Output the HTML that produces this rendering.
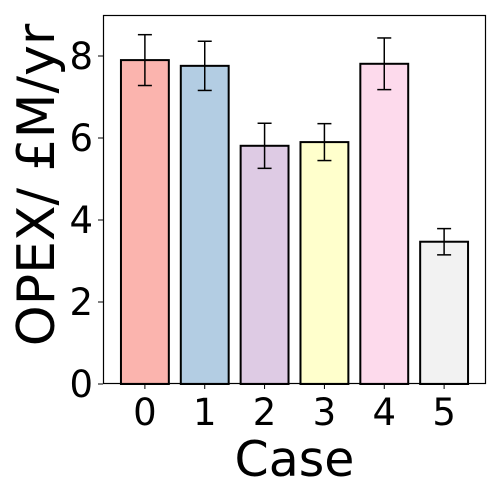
<!DOCTYPE html>
<html><head><meta charset="utf-8"><style>body{margin:0;background:#fff}svg{display:block}text{font-family:"DejaVu Sans","Liberation Sans",sans-serif}</style></head>
<body>
<svg id="chart" width="500" height="500" xmlns="http://www.w3.org/2000/svg"></svg>
<script>
const categories = ["0","1","2","3","4","5"];
const values = [7.90, 7.76, 5.81, 5.90, 7.81, 3.47];
const errors = [0.62, 0.60, 0.55, 0.45, 0.63, 0.32];
const colors = ["#fbb4ae","#b3cde3","#decbe4","#ffffcc","#fddaec","#f2f2f2"];
const yTicks = [0,2,4,6,8];
const NS="http://www.w3.org/2000/svg";
const svg=document.getElementById('chart');
const L=103,R=486,T=15,B=384;
const xMin=-0.7,xMax=5.7,yMin=0,yMax=9;
const xs=v=>L+(v-xMin)/(xMax-xMin)*(R-L);
const ys=v=>B-(v-yMin)/(yMax-yMin)*(B-T);
function mk(tag,attrs,parent){const e=document.createElementNS(NS,tag);for(const k in attrs)e.setAttribute(k,attrs[k]);(parent||svg).appendChild(e);return e;}
const bw=0.8;
categories.forEach((c,i)=>{
  const x0=xs(i-bw/2),x1=xs(i+bw/2);
  const b=mk('rect',{x:x0,y:ys(values[i]),width:x1-x0,height:ys(0)-ys(values[i]),fill:colors[i],stroke:'#000','stroke-width':2});
  
  
  const g=mk('g',{stroke:'#000','stroke-width':1.5});
  
  
  const cx=xs(i),hi=ys(values[i]+errors[i]),lo=ys(values[i]-errors[i]);
  mk('line',{x1:cx,x2:cx,y1:hi,y2:lo},g);
  mk('line',{x1:cx-7,x2:cx+7,y1:hi,y2:hi},g);
  mk('line',{x1:cx-7,x2:cx+7,y1:lo,y2:lo},g);
  const t=mk('line',{x1:cx,x2:cx,y1:B,y2:B+5,stroke:'#000','stroke-width':1});
  
  
  const lb=mk('text',{x:cx,y:B+41,'font-size':37,'text-anchor':'middle',fill:'#000'});
  lb.textContent=c;
  
  
});
yTicks.forEach(v=>{
  const t=mk('line',{x1:L-5,x2:L,y1:ys(v),y2:ys(v),stroke:'#000','stroke-width':1});
  
  
  const lb=mk('text',{x:L-10,y:ys(v)+13,'font-size':37,'text-anchor':'end',fill:'#000'});
  lb.textContent=v;
  
  
});
const frame=mk('rect',{x:L+0.5,y:T+0.5,width:R-L-1,height:B-T-1,fill:'none',stroke:'#000','stroke-width':1.2});


const xt=mk('text',{x:(L+R)/2,y:476,'font-size':49,'text-anchor':'middle',fill:'#000'});
xt.textContent='Case';


const yt=mk('text',{x:0,y:0,'font-size':52,'text-anchor':'middle',fill:'#000',transform:'translate(54,185) rotate(-90)'});
yt.textContent='OPEX/ £M/yr';


</script>
</body></html>
